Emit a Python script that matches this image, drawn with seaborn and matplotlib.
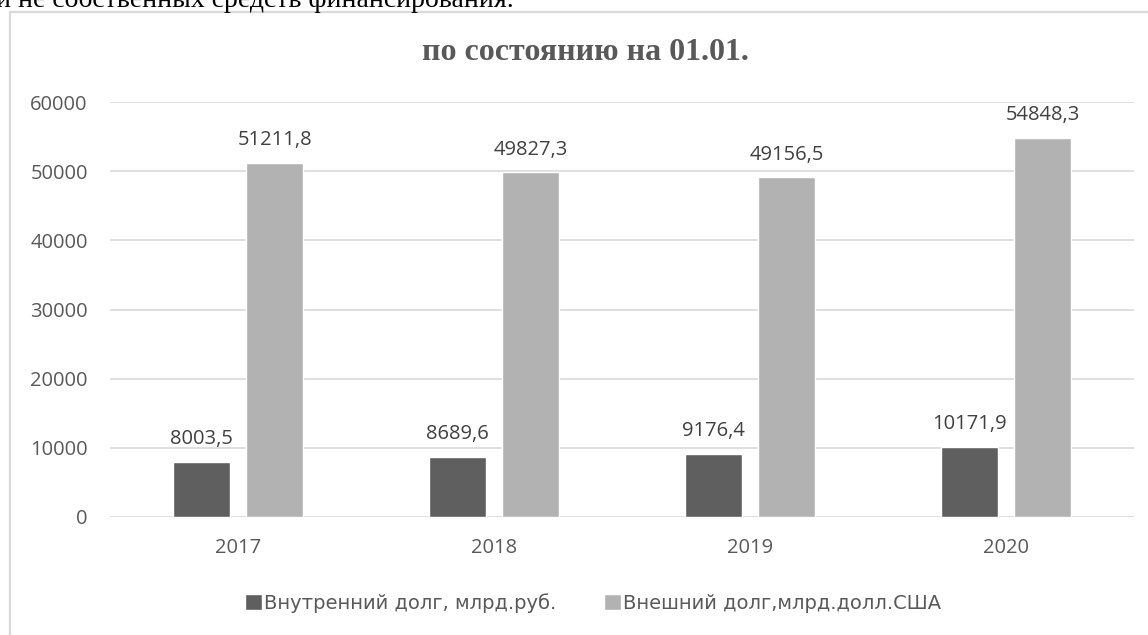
import matplotlib
matplotlib.use("Agg")
import matplotlib.pyplot as plt
import matplotlib.patches as mpatches
import seaborn as sns
import pandas as pd

# Data: state debt as of January 1st
years = ["2017", "2018", "2019", "2020"]
domestic = [8003.5, 8689.6, 9176.4, 10171.9]
external = [51211.8, 49827.3, 49156.5, 54848.3]
series_names = ["Внутренний долг, млрд.руб.", "Внешний долг,млрд.долл.США"]
y_ticks = [0, 10000, 20000, 30000, 40000, 50000, 60000]

df = pd.DataFrame({
    "year": years * 2,
    "series": [series_names[0]] * len(years) + [series_names[1]] * len(years),
    "value": domestic + external,
})

sns.set_theme(style="white")
plt.rcParams["font.family"] = ["Open Sans", "DejaVu Sans"]

W, H = 1148, 635
fig = plt.figure(figsize=(W / 100, H / 100), dpi=100)
fig.patch.set_facecolor("white")

ax = fig.add_axes([110 / W, 118 / H, (1134 - 110) / W, 415 / H])

palette = {series_names[0]: "#5f5f5f", series_names[1]: "#b2b2b2"}
sns.barplot(data=df, x="year", y="value", hue="series", order=years,
            hue_order=series_names, palette=palette, width=0.572, gap=0.213,
            saturation=1, ax=ax, legend=True, errorbar=None)

ax.set_ylim(0, 60000)
ax.set_yticks(y_ticks)
ax.set_yticklabels([str(t) for t in y_ticks])
ax.set_xlim(-0.5, len(years) - 0.5)
ax.set_xlabel("")
ax.set_ylabel("")
for s in ax.spines.values():
    s.set_visible(False)
ax.yaxis.grid(True, color="#d9d9d9", linewidth=1.2)
ax.set_axisbelow(True)
ax.tick_params(axis="both", length=0, colors="#595959", labelsize=14.5)
ax.tick_params(axis="y", pad=16)
ax.tick_params(axis="x", pad=15)

for cont in ax.containers:
    labels = [f"{b.get_height():.1f}".replace(".", ",") for b in cont]
    ax.bar_label(cont, labels=labels, padding=9, fontsize=14.5, color="#404040")

# Legend below the plot
handles, labels = ax.get_legend_handles_labels()
ax.legend_.remove()
fig.legend(handles, labels, loc="center", bbox_to_anchor=(593 / W, (H - 603) / H),
           ncol=2, frameon=False, handlelength=0.85, handleheight=0.85,
           handletextpad=0.1, columnspacing=2.5,
           prop={"family": ["DejaVu Sans"], "size": 14},
           labelcolor="#595959")

# Chart title
fig.text(585 / W, (H - 53) / H, "по состоянию на 01.01.", ha="center", va="center",
         fontsize=23, fontweight="bold", color="#595959",
         family=["Liberation Serif", "DejaVu Serif"])

# Surrounding document line and chart frame
fig.text(-4 / W, (H - 7) / H, "и не собственных средств финансирования.",
         ha="left", va="baseline", fontsize=20, color="black",
         family=["Liberation Serif", "DejaVu Serif"])
frame = mpatches.Rectangle((9.5 / W, -0.2), 1.2, (H - 11.5) / H + 0.2,
                           transform=fig.transFigure, fill=False,
                           edgecolor="#d9d9d9", linewidth=1.6, clip_on=False)
fig.patches.append(frame)

fig.savefig("out.png", dpi=100, facecolor="white")
